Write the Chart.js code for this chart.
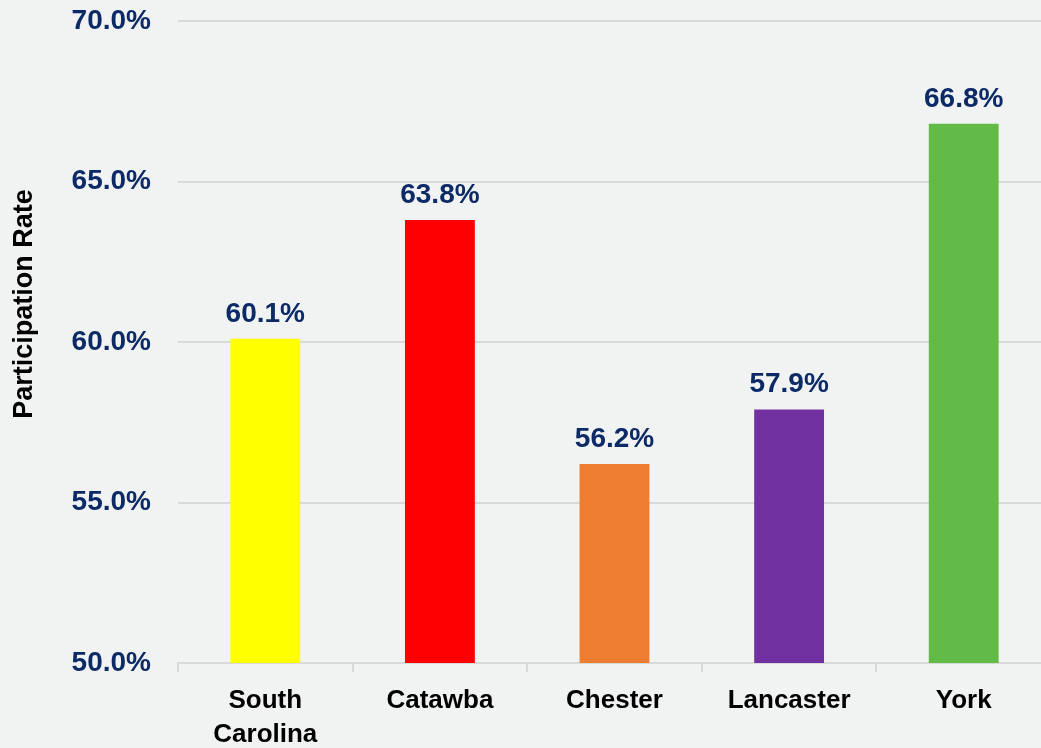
<!DOCTYPE html>
<html>
<head>
<meta charset="utf-8">
<title>Participation Rate</title>
<script src="https://cdn.jsdelivr.net/npm/chart.js@4"></script>
<style>
  html, body { margin: 0; padding: 0; background: #f1f2f2; overflow: hidden; }
  #wrap { width: 1051px; height: 748px; }
</style>
</head>
<body>
<div id="wrap"><canvas id="rate-chart" width="1051" height="748"></canvas></div>
<script>
// participation rate by area (percent)
const areas = [["South", "Carolina"], "Catawba", "Chester", "Lancaster", "York"];
const rates = [60.1, 63.8, 56.2, 57.9, 66.8];
const barColors = ["#ffff00", "#ff0000", "#ed7d31", "#7030a0", "#62bb46"];
const yTicks = [50, 55, 60, 65, 70];
const yTitle = "Participation Rate";

const NAVY = "#0b2a66";
const FONT = "'Liberation Sans', Arial, sans-serif";

// paints the page colour, the axis title and the value above each bar
const barLabels = {
  id: "barLabels",
  beforeDraw(chart) {
    const ctx = chart.ctx;
    ctx.save();
    ctx.fillStyle = "#f1f2f2";
    ctx.fillRect(0, 0, chart.width, chart.height);
    ctx.restore();
  },
  afterDraw(chart) {
    const ctx = chart.ctx;
    ctx.save();
    ctx.translate(25, 304);
    ctx.rotate(-Math.PI / 2);
    ctx.font = "bold 27px " + FONT;
    ctx.fillStyle = "#000";
    ctx.textAlign = "center";
    ctx.textBaseline = "middle";
    ctx.fillText(yTitle, 0, 0);
    ctx.restore();
  },
  afterDatasetsDraw(chart) {
    const ctx = chart.ctx;
    const meta = chart.getDatasetMeta(0);
    ctx.save();
    ctx.font = "bold 28px " + FONT;
    ctx.fillStyle = NAVY;
    ctx.textAlign = "center";
    ctx.textBaseline = "alphabetic";
    meta.data.forEach((bar, i) => {
      ctx.fillText(rates[i].toFixed(1) + "%", bar.x, bar.y - 17);
    });
    ctx.restore();
  }
};

const ctx = document.getElementById("rate-chart").getContext("2d");
new Chart(ctx, {
  type: "bar",
  data: {
    labels: areas,
    datasets: [{
      data: rates,
      backgroundColor: barColors,
      borderWidth: 0,
      barPercentage: 0.4,
      categoryPercentage: 1.0
    }]
  },
  options: {
    responsive: false,
    animation: false,
    layout: { padding: 0 },
    plugins: {
      legend: { display: false },
      tooltip: { enabled: false }
    },
    scales: {
      x: {
        grid: {
          offset: true,
          drawOnChartArea: false,
          drawTicks: true,
          tickLength: 9,
          color: "#d9d9d9",
          lineWidth: 2
        },
        border: { display: true, color: "#d9d9d9", width: 2 },
        ticks: {
          color: "#000",
          font: { family: FONT, size: 26, weight: "bold", lineHeight: 1.3 },
          padding: 12,
          maxRotation: 0
        },
        afterFit(scale) { scale.height = 85; }
      },
      y: {
        min: 50,
        max: 70,
        afterBuildTicks(scale) { scale.ticks = yTicks.map(v => ({ value: v })); },
        // invisible tick marks give the label gap without pushing the top down
        grid: { color: "#d9d9d9", lineWidth: 2, drawTicks: true, tickLength: 22, tickColor: "rgba(0,0,0,0)" },
        border: { display: false },
        ticks: {
          color: NAVY,
          font: { family: FONT, size: 28, weight: "bold", lineHeight: 1.15 },
          padding: 5,
          callback: v => v.toFixed(1) + "%"
        },
        afterFit(scale) { scale.width = 178; }
      }
    }
  },
  plugins: [barLabels]
});
</script>
</body>
</html>
